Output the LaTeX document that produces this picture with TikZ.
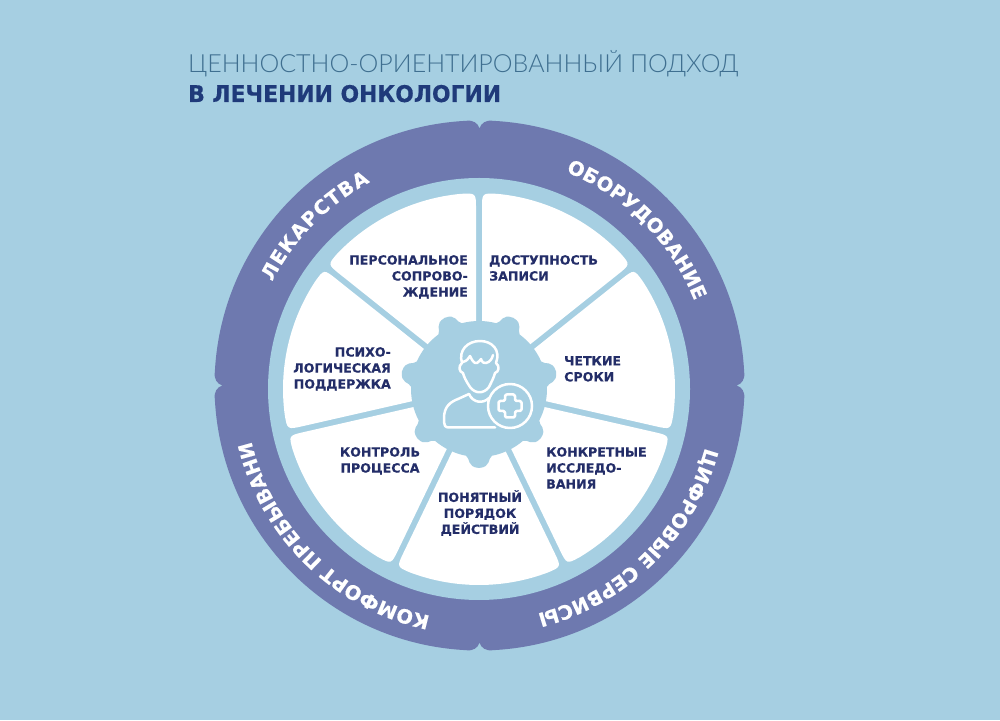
\documentclass[tikz,border=0pt]{standalone}
\usepackage{fontspec}
\usetikzlibrary{decorations.text}
\setmainfont{DejaVu Sans}
\newfontfamily\titlelight{Lato Light}
\newfontfamily\boldface[FakeBold=0.4]{DejaVu Sans Bold}
\newfontfamily\titlebold[FakeStretch=0.95,FakeBold=0.5]{DejaVu Sans Bold}
\definecolor{skybg}{HTML}{A6CFE2}
\definecolor{bandblue}{HTML}{6E79AF}
\definecolor{navy}{HTML}{232D68}
\definecolor{titlenavy}{HTML}{1F3A7A}
\definecolor{titlethin}{HTML}{3F6F90}
\newcommand\bandfont{\boldface\fontsize{19.5}{19.5}\selectfont\color{white}}
\newcommand\sectorpath[2]{(#1-2.87:60) -- (#1-0.955:180) .. controls (#1-0.877:196) .. (#1-5.28:196) arc[start angle=#1-5.28,end angle=#2+5.28,radius=196] .. controls (#2+0.877:196) .. (#2+0.955:180) -- (#2+2.87:60) -- cycle}
\newcommand\bandq[1]{.. controls (#1+0.3:262) and (#1+1.3:266) .. (#1+3:265) arc[start angle=#1+3,end angle=#1+87,radius=265] .. controls (#1+88.7:266) and (#1+89.7:262) .. (#1+90:257) }
\newcommand\hubbump[1]{.. controls (#1-7:70) and (#1-9:79) .. (#1:79) .. controls (#1+9:79) and (#1+7:70) .. (#1+11:68) arc[start angle=#1+11,end angle=#1+40.43,radius=68] }
\tikzset{
  seglabel/.style={font=\boldface\fontsize{12.6}{16}\selectfont,text=navy,inner sep=0pt},
  iconline/.style={draw=white,line width=2.5pt,line join=round,line cap=round},
  bandtext/.style={decorate,decoration={text along path,text align={fit to path},text={|\bandfont|#1}}}
}
\begin{document}
\begin{tikzpicture}[x=1pt,y=1pt]
\useasboundingbox (0,0) rectangle (1000,720);
\fill[skybg] (0,0) rectangle (1000,720);
% outer band
\begin{scope}[shift={(479.5,334.5)}]
\fill[bandblue] (0:257) \bandq{0} \bandq{90} \bandq{180} \bandq{270} -- cycle;
\end{scope}
% wheel
\begin{scope}[shift={(479,331)}]
\fill[skybg] (0,0) circle[radius=211];
\foreach \a/\b in {90/38.57,38.57/-12.86,-12.86/-64.29,-64.29/-115.71,-115.71/-167.14,-167.14/-218.57,-218.57/-270}
  \fill[white] \sectorpath{\a}{\b};
\fill[skybg] (-101:68) \hubbump{-90} \hubbump{-38.57} \hubbump{12.86} \hubbump{64.29} \hubbump{115.71} \hubbump{167.14} \hubbump{218.57} -- cycle;
\end{scope}
% band labels
\begin{scope}[shift={(479,333)}]
\path[bandtext={ЛЕКАРСТВА}] (153:232) arc[start angle=153,end angle=118,radius=232];
\path[bandtext={ОБОРУДОВАНИЕ}] (68:232) arc[start angle=68,end angle=22,radius=232];
\path[bandtext={ЦИФРОВЫЕ СЕРВИСЫ}] (-15:234) arc[start angle=-15,end angle=-75,radius=234];
\path[bandtext={КОМФОРТ ПРЕБЫВАНИЯ}] (258:234) arc[start angle=258,end angle=192,radius=234];
\end{scope}
% image coordinates
\begin{scope}[shift={(0,720)},yscale=-1]
\node[anchor=base west,inner sep=0pt,text=titlethin,font=\titlelight\fontsize{25}{25}\selectfont] (title1) at (188,73) {ЦЕННОСТНО-ОРИЕНТИРОВАННЫЙ ПОДХОД};
\node[anchor=base west,inner sep=0pt,text=titlenavy,font=\titlebold\fontsize{23}{23}\selectfont] (title2) at (188,102) {В ЛЕЧЕНИИ ОНКОЛОГИИ};
\node[seglabel,anchor=north east,align=right] (l1) at (468,255) {ПЕРСОНАЛЬНОЕ\\СОПРОВО-\\ЖДЕНИЕ};
\node[seglabel,anchor=north west,align=left] (l2) at (489,255) {ДОСТУПНОСТЬ\\ЗАПИСИ};
\node[seglabel,anchor=north west,align=left] (l3) at (564,356) {ЧЕТКИЕ\\СРОКИ};
\node[seglabel,anchor=north west,align=left] (l4) at (546,447) {КОНКРЕТНЫЕ\\ИССЛЕДО-\\ВАНИЯ};
\node[seglabel,anchor=north,align=center] (l5) at (480,490) {ПОНЯТНЫЙ\\ПОРЯДОК\\ДЕЙСТВИЙ};
\node[seglabel,anchor=north,align=center] (l6) at (380,447) {КОНТРОЛЬ\\ПРОЦЕССА};
\node[seglabel,anchor=north east,align=right] (l7) at (391,347) {ПСИХО-\\ЛОГИЧЕСКАЯ\\ПОДДЕРЖКА};
% person icon
\draw[iconline] (470,387) .. controls (466,381) and (464,377) .. (463,373) .. controls (459,372) and (458,366) .. (462,363)
  .. controls (458,350) and (468,341) .. (480,341) .. controls (492,341) and (501,350) .. (496,363)
  .. controls (500,366) and (499,372) .. (495,373) .. controls (494,377) and (492,381) .. (489,387)
  .. controls (484,394) and (475,394) .. (470,387);
\draw[iconline] (463,362) .. controls (467,361) and (469,358) .. (470,356) .. controls (472,360) and (474,364) .. (477,363) .. controls (479,362) and (480,360) .. (481,359) .. controls (482,362) and (484,364) .. (486,363) .. controls (490,362) and (492,359) .. (493,355);
\draw[iconline] (495,427.5) -- (449,427.5) .. controls (445,427.5) and (444,425) .. (444,422) -- (444,418) .. controls (444,407) and (450,402) .. (458,399) -- (469,394);
\draw[iconline] (469,394) .. controls (473,403) and (483,404) .. (489,398);
\draw[iconline] (510,406) circle[radius=22];
\draw[iconline,rounded corners=1.5pt] (505,394.5) -- (515,394.5) -- (515,401) -- (521.5,401) -- (521.5,411) -- (515,411) -- (515,417.5) -- (505,417.5) -- (505,411) -- (498.5,411) -- (498.5,401) -- (505,401) -- cycle;
\end{scope}
\end{tikzpicture}
\end{document}
